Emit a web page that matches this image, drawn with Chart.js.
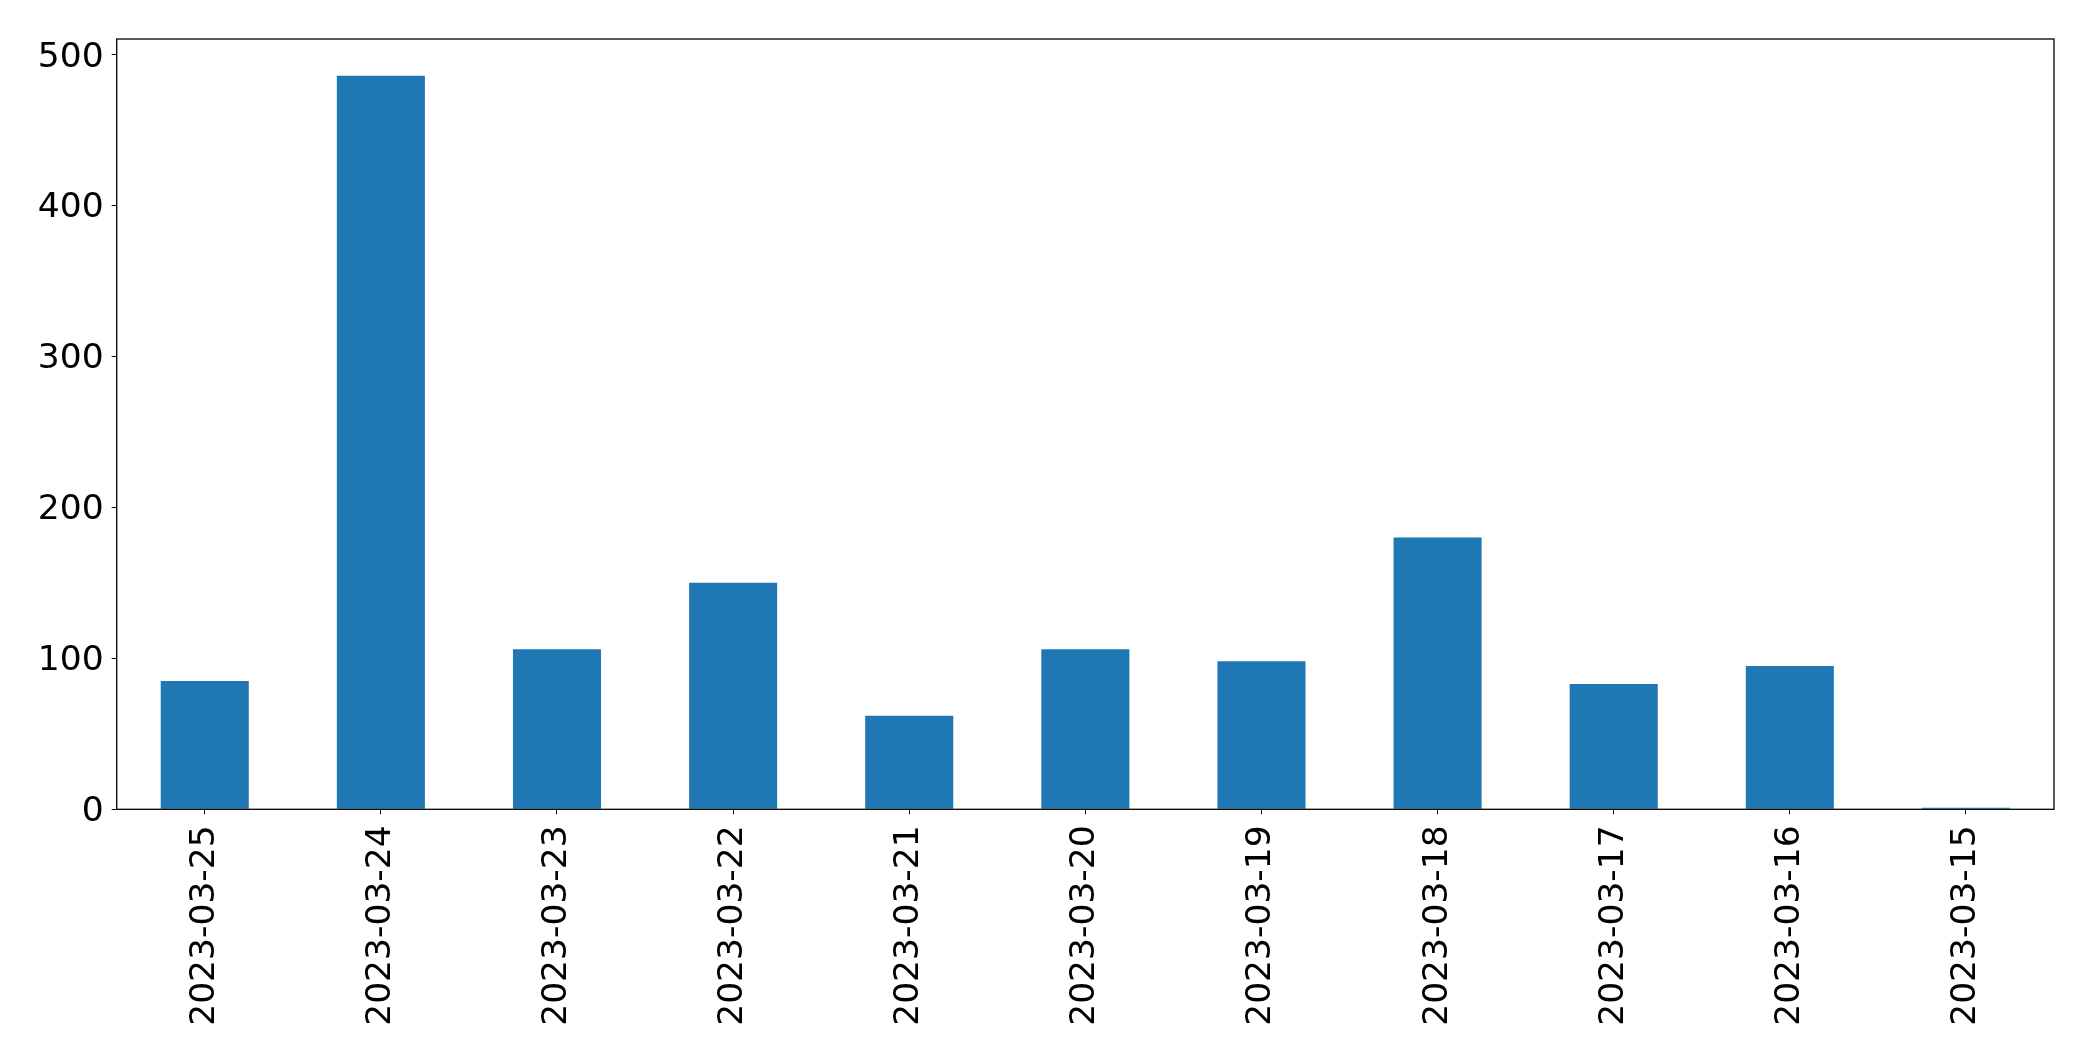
<!DOCTYPE html>
<html>
<head>
<meta charset="utf-8">
<script src="https://cdn.jsdelivr.net/npm/chart.js@4/dist/chart.umd.min.js"></script>
<style>
  html, body { margin: 0; padding: 0; background: #ffffff; }
  #wrap { width: 2093px; height: 1061px; position: relative; }
</style>
</head>
<body>
<div id="wrap"><canvas id="c" width="2093" height="1061"></canvas></div>
<script>
const categories = ["2023-03-25", "2023-03-24", "2023-03-23", "2023-03-22", "2023-03-21", "2023-03-20", "2023-03-19", "2023-03-18", "2023-03-17", "2023-03-16", "2023-03-15"];
const counts = [85, 486, 106, 150, 62, 106, 98, 180, 83, 95, 1];
const yTicks = [0, 100, 200, 300, 400, 500];
const yMax = 510.3;

const frame = {
  id: 'frame',
  afterDatasetsDraw(chart) {
    const a = chart.chartArea, ctx = chart.ctx;
    ctx.save();
    ctx.strokeStyle = '#000';
    ctx.lineWidth = 1.3;
    ctx.strokeRect(a.left, a.top, a.right - a.left, a.bottom - a.top);
    ctx.restore();
  }
};

new Chart(document.getElementById('c'), {
  type: 'bar',
  data: {
    labels: categories,
    datasets: [{
      data: counts,
      backgroundColor: '#1f77b4',
      borderWidth: 0,
      barPercentage: 0.5,
      categoryPercentage: 1.0
    }]
  },
  options: {
    responsive: false,
    animation: false,
    devicePixelRatio: 1,
    layout: { padding: { left: 0, right: 39, top: 39, bottom: 0 } },
    plugins: { legend: { display: false }, tooltip: { enabled: false } },
    scales: {
      x: {
        offset: true,
        grid: { display: true, drawOnChartArea: false, tickLength: 5, color: '#000', offset: false },
        border: { display: false },
        ticks: {
          color: '#000',
          font: { family: 'DejaVu Sans', size: 34.5 },
          minRotation: 90, maxRotation: 90,
          padding: 11,
          autoSkip: false
        },
        afterFit(scale) { scale.height = 251.7; }
      },
      y: {
        min: 0,
        max: yMax,
        grid: { display: true, drawOnChartArea: false, tickLength: 5, color: '#000' },
        border: { display: false },
        ticks: {
          color: '#000',
          font: { family: 'DejaVu Sans', size: 34.5 },
          padding: 8,
          labelOffset: 3
        },
        afterBuildTicks(scale) { scale.ticks = yTicks.map(v => ({ value: v })); },
        afterFit(scale) { scale.width = 116.7; }
      }
    }
  },
  plugins: [frame]
});
</script>
</body>
</html>
